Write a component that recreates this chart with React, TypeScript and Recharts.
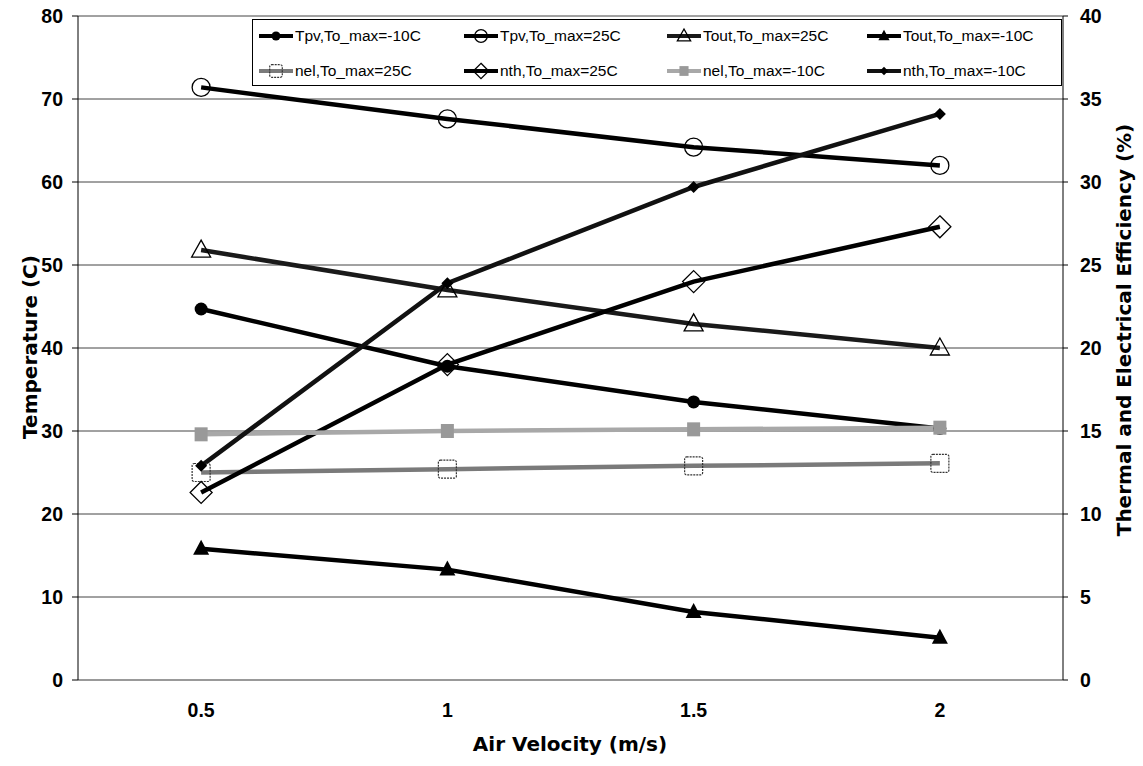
import React from 'react';
import { LineChart, Line, XAxis, YAxis, CartesianGrid } from 'recharts';

// ---- data ----
const velocities = [0.5, 1, 1.5, 2];
const tpvMinus10 = [44.7, 37.8, 33.5, 30.3];
const tpv25 = [71.4, 67.6, 64.2, 62.0];
const tout25 = [51.8, 47.0, 42.9, 40.0];
const toutMinus10 = [15.8, 13.3, 8.2, 5.1];
const nel25 = [12.5, 12.7, 12.9, 13.05];
const nth25 = [11.3, 19.0, 24.0, 27.3];
const nelMinus10 = [14.8, 15.0, 15.1, 15.2];
const nthMinus10 = [12.9, 23.9, 29.7, 34.1];

const leftTicks = [0, 10, 20, 30, 40, 50, 60, 70, 80];
const rightTicks = [0, 5, 10, 15, 20, 25, 30, 35, 40];
const xTicks = [0.5, 1, 1.5, 2];
const xMinorTicks = [0.75, 1.25, 1.75];

type MarkerType =
  | 'circleFilled'
  | 'circleOpen'
  | 'triangleOpen'
  | 'triangleFilled'
  | 'squareOpen'
  | 'diamondOpen'
  | 'squareGray'
  | 'diamondFilled';

const series: {
  key: string;
  name: string;
  values: number[];
  axis: 'left' | 'right';
  stroke: string;
  marker: MarkerType;
}[] = [
  { key: 'tpvM10', name: 'Tpv,To_max=-10C', values: tpvMinus10, axis: 'left', stroke: '#000', marker: 'circleFilled' },
  { key: 'tpv25', name: 'Tpv,To_max=25C', values: tpv25, axis: 'left', stroke: '#000', marker: 'circleOpen' },
  { key: 'tout25', name: 'Tout,To_max=25C', values: tout25, axis: 'left', stroke: '#1a1a1a', marker: 'triangleOpen' },
  { key: 'toutM10', name: 'Tout,To_max=-10C', values: toutMinus10, axis: 'left', stroke: '#000', marker: 'triangleFilled' },
  { key: 'nel25', name: 'nel,To_max=25C', values: nel25, axis: 'right', stroke: '#7a7a7a', marker: 'squareOpen' },
  { key: 'nth25', name: 'nth,To_max=25C', values: nth25, axis: 'right', stroke: '#000', marker: 'diamondOpen' },
  { key: 'nelM10', name: 'nel,To_max=-10C', values: nelMinus10, axis: 'right', stroke: '#a8a8a8', marker: 'squareGray' },
  { key: 'nthM10', name: 'nth,To_max=-10C', values: nthMinus10, axis: 'right', stroke: '#111', marker: 'diamondFilled' },
];

const data = velocities.map((v, i) => {
  const row: Record<string, number> = { v };
  series.forEach((s) => {
    row[s.key] = s.values[i];
  });
  return row;
});

function Marker({ cx, cy, type, s = 1 }: { cx: number; cy: number; type: MarkerType; s?: number }) {
  if (cx == null || cy == null) return null;
  switch (type) {
    case 'circleFilled':
      return <circle cx={cx} cy={cy} r={6.5 * s} fill="#000" />;
    case 'circleOpen':
      return <circle cx={cx} cy={cy} r={9 * s} fill="none" stroke="#000" strokeWidth={1.3} />;
    case 'triangleOpen':
      return (
        <polygon
          points={`${cx},${cy - 10 * s} ${cx + 9.5 * s},${cy + 7 * s} ${cx - 9.5 * s},${cy + 7 * s}`}
          fill="none"
          stroke="#000"
          strokeWidth={1.3}
        />
      );
    case 'triangleFilled':
      return (
        <polygon
          points={`${cx},${cy - 9 * s} ${cx + 8 * s},${cy + 6 * s} ${cx - 8 * s},${cy + 6 * s}`}
          fill="#000"
        />
      );
    case 'squareOpen':
      return (
        <rect
          x={cx - 9 * s}
          y={cy - 9 * s}
          width={18 * s}
          height={18 * s}
          rx={2}
          fill="none"
          stroke="#333"
          strokeWidth={1.2}
          strokeDasharray="2 1"
        />
      );
    case 'diamondOpen':
      return (
        <polygon
          points={`${cx},${cy - 11 * s} ${cx + 11 * s},${cy} ${cx},${cy + 11 * s} ${cx - 11 * s},${cy}`}
          fill="none"
          stroke="#000"
          strokeWidth={1.3}
        />
      );
    case 'squareGray':
      return <rect x={cx - 6.5 * s} y={cy - 7 * s} width={13 * s} height={14 * s} fill="#999" />;
    case 'diamondFilled':
      return (
        <polygon
          points={`${cx},${cy - 6 * s} ${cx + 6 * s},${cy} ${cx},${cy + 6 * s} ${cx - 6 * s},${cy}`}
          fill="#000"
        />
      );
    default:
      return null;
  }
}

const TICK_FONT = {
  fontFamily: '"Liberation Sans", Arial, sans-serif',
  fontWeight: 700,
  fontSize: 19.5,
  fill: '#000',
};
const TITLE_STYLE: React.CSSProperties = {
  fontFamily: 'DejaVu Sans',
  fontWeight: 700,
  fontSize: 20,
  fill: '#000',
};

function LegendBox() {
  const colLeft = [5, 210, 413, 613];
  return (
    <div
      style={{
        position: 'absolute',
        left: 252,
        top: 19,
        width: 810,
        height: 67,
        border: '1px solid #000',
        background: '#fff',
        boxSizing: 'border-box',
      }}
    >
      {series.map((s, i) => {
        const row = Math.floor(i / 4);
        const col = i % 4;
        return (
          <div
            key={s.key}
            style={{
              position: 'absolute',
              left: colLeft[col],
              top: row === 0 ? 6 : 41,
              height: 20,
              display: 'flex',
              alignItems: 'center',
              whiteSpace: 'nowrap',
            }}
          >
            <svg width={36} height={20} style={{ display: 'block' }}>
              <line x1={1} y1={10} x2={35} y2={10} stroke={s.stroke} strokeWidth={4} />
              <Marker cx={18} cy={10} type={s.marker} s={0.7} />
            </svg>
            <span
              style={{
                fontFamily: '"Liberation Sans", Arial, sans-serif',
                fontSize: 15.5,
                color: '#000',
                marginLeft: 1,
              }}
            >
              {s.name}
            </span>
          </div>
        );
      })}
    </div>
  );
}

export default function App() {
  return (
    <div style={{ position: 'absolute', left: 0, top: 0, width: 1143, height: 766, background: '#fff' }}>
      <LineChart
        width={1143}
        height={766}
        data={data}
        margin={{ top: 16, right: 0, left: 0, bottom: 0 }}
      >
        <CartesianGrid yAxisId="left" horizontal vertical={false} stroke="#444" strokeWidth={1} />
        <XAxis
          dataKey="v"
          type="number"
          domain={[0.25, 2.25]}
          ticks={xTicks}
          height={86}
          tickLine={false}
          tickSize={6}
          tickMargin={17}
          axisLine={{ stroke: '#999', strokeWidth: 2 }}
          tick={TICK_FONT}
          allowDataOverflow
          label={{
            content: () => (
              <text x={570} y={751} textAnchor="middle" style={TITLE_STYLE}>
                Air Velocity (m/s)
              </text>
            ),
          }}
        />
        <XAxis
          xAxisId="minor"
          dataKey="v"
          type="number"
          domain={[0.25, 2.25]}
          ticks={xMinorTicks}
          height={0}
          mirror
          tickSize={5}
          axisLine={false}
          tickLine={{ stroke: '#000' }}
          tickFormatter={() => ''}
          allowDataOverflow
        />
        <YAxis
          yAxisId="left"
          domain={[0, 80]}
          ticks={leftTicks}
          width={78}
          tickSize={6}
          tickMargin={9}
          axisLine={{ stroke: '#000' }}
          tickLine={{ stroke: '#000' }}
          tick={TICK_FONT}
          label={{
            content: () => (
              <text
                x={37}
                y={347}
                textAnchor="middle"
                transform="rotate(-90, 37, 347)"
                style={TITLE_STYLE}
              >
                Temperature (C)
              </text>
            ),
          }}
        />
        <YAxis
          yAxisId="right"
          orientation="right"
          domain={[0, 40]}
          ticks={rightTicks}
          width={80}
          tickSize={5}
          tickMargin={12}
          axisLine={{ stroke: '#000' }}
          tickLine={{ stroke: '#000' }}
          tick={TICK_FONT}
          label={{
            content: () => (
              <text
                x={1131}
                y={330}
                textAnchor="middle"
                transform="rotate(-90, 1131, 330)"
                style={TITLE_STYLE}
              >
                Thermal and Electrical Efficiency (%)
              </text>
            ),
          }}
        />
        {series.map((s) => (
          <Line
            key={s.key}
            yAxisId={s.axis}
            dataKey={s.key}
            name={s.name}
            stroke={s.stroke}
            strokeWidth={4.5}
            isAnimationActive={false}
            dot={(p: any) => (
              <Marker key={`${s.key}-${p.index}`} cx={p.cx} cy={p.cy} type={s.marker} />
            )}
            activeDot={false}
          />
        ))}
      </LineChart>
      <LegendBox />
    </div>
  );
}
